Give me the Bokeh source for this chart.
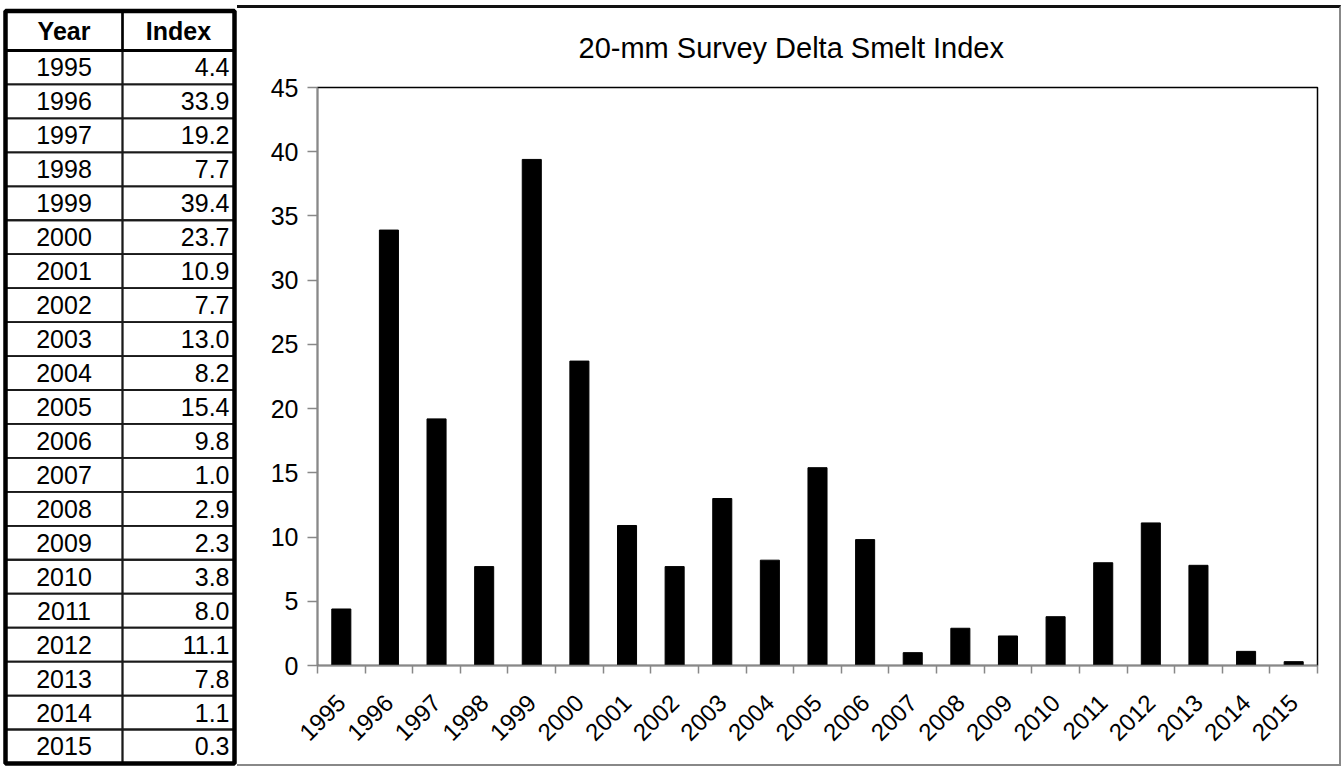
import math
from bokeh.plotting import figure
from bokeh.layouts import row, column
from bokeh.models import Range1d, LinearAxis, FixedTicker, ColumnDataSource
from bokeh.core.properties import value
from bokeh.embed import file_html
from bokeh.resources import INLINE

# ---------------- data ----------------
years = [1995, 1996, 1997, 1998, 1999, 2000, 2001, 2002, 2003, 2004, 2005,
         2006, 2007, 2008, 2009, 2010, 2011, 2012, 2013, 2014, 2015]
index_values = [4.4, 33.9, 19.2, 7.7, 39.4, 23.7, 10.9, 7.7, 13.0, 8.2, 15.4,
                9.8, 1.0, 2.9, 2.3, 3.8, 8.0, 11.1, 7.8, 1.1, 0.3]
y_ticks = [0, 5, 10, 15, 20, 25, 30, 35, 40, 45]
table_headers = ["Year", "Index"]
chart_title = "20-mm Survey Delta Smelt Index"

FONT = "Liberation Sans"
H = 766

# ---------------- table ----------------
TW = 237
row_px = 33.95
header_units = 1.163
top_units = -header_units - 10.5 / row_px
bottom_units = top_units + H / row_px

tbl = figure(width=TW, height=H, output_backend="svg", toolbar_location=None,
             x_range=Range1d(0, TW), y_range=Range1d(bottom_units, top_units),
             min_border=0, outline_line_color=None, tools="")
tbl.axis.visible = False
tbl.xgrid.visible = False
tbl.ygrid.visible = False

x_left, x_mid, x_right = 5, 122, 234
n = len(years)
rows_idx = list(range(n))
cells = ColumnDataSource(dict(
    top=[i for i in rows_idx],
    bottom=[i + 1 for i in rows_idx],
    year=[str(y) for y in years],
    val=[f"{v:.1f}" for v in index_values],
    yc=[i + 0.5 for i in rows_idx],
))
tbl.quad(left=x_left, right=x_mid, top="top", bottom="bottom", source=cells,
         fill_color=None, line_color="#1a1a1a", line_width=1.8)
tbl.quad(left=x_mid, right=x_right, top="top", bottom="bottom", source=cells,
         fill_color=None, line_color="#1a1a1a", line_width=1.8)
tbl.quad(left=[x_left, x_mid], right=[x_mid, x_right], top=[-header_units] * 2,
         bottom=[0, 0], fill_color=None, line_color="black", line_width=2.2)
tbl.segment(x0=[x_left], x1=[x_right], y0=[0.0], y1=[0.0], line_color="black", line_width=3)
tbl.quad(left=[x_left], right=[x_right], top=[-header_units], bottom=[n],
         fill_color=None, line_color="black", line_width=4.5)

tbl.text(x=(x_left + x_mid) / 2, y="yc", text="year", source=cells,
         text_align="center", text_baseline="middle",
         text_font=value(FONT), text_font_size="25px", text_color="black")
tbl.text(x=x_right - 5, y="yc", text="val", source=cells,
         text_align="right", text_baseline="middle",
         text_font=value(FONT), text_font_size="25px", text_color="black")
tbl.text(x=[(x_left + x_mid) / 2, (x_mid + x_right) / 2],
         y=[-header_units / 2] * 2, text=table_headers,
         text_align="center", text_baseline="middle",
         text_font=value(FONT), text_font_size="25px", text_font_style="bold",
         text_color="black")

# ---------------- chart ----------------
CW = 1341 - TW
CH = H - 5
xs = list(range(n))
p = figure(width=CW, height=CH, output_backend="svg", toolbar_location=None,
           x_range=Range1d(-0.5, n - 0.5), y_range=Range1d(0, 45),
           min_border_left=80, min_border_right=24, min_border_top=79,
           min_border_bottom=104, tools="", x_axis_location=None,
           y_axis_location=None, title=chart_title)
p.styles = {"border-top": "3px solid #111", "border-right": "2px solid #888",
            "border-bottom": "2px solid #888", "box-sizing": "border-box",
            "margin-top": "5px"}
p.title.text_font = FONT
p.title.text_font_size = "29px"
p.title.text_font_style = "normal"
p.title.text_color = "black"
p.title.align = "left"
p.title.vertical_align = "top"
p.title.offset = 261
p.title.standoff = 44
p.xgrid.visible = False
p.ygrid.visible = False
p.outline_line_color = "black"
p.outline_line_width = 1.5
p.background_fill_color = "white"
p.border_fill_color = "white"

for f in (tbl, p):
    if "frame_align" in f.properties():
        f.frame_align = False

yax = LinearAxis(ticker=FixedTicker(ticks=y_ticks))
yax.axis_line_color = "#888888"
yax.axis_line_width = 1.5
yax.major_tick_line_color = "#888888"
yax.major_tick_line_width = 1.5
yax.major_tick_out = 10
yax.major_tick_in = 0
yax.minor_tick_line_color = None
yax.major_label_standoff = 9
yax.major_label_text_font = FONT
yax.major_label_text_font_size = "25px"
yax.major_label_text_color = "black"
p.add_layout(yax, "left")

bounds = [i - 0.5 for i in range(n + 1)]
xax_ticks = LinearAxis(ticker=FixedTicker(ticks=bounds))
xax_ticks.major_label_overrides = {b: "" for b in bounds}
xax_ticks.major_label_text_font_size = "1px"
xax_ticks.major_label_standoff = 0
xax_ticks.axis_line_color = "#888888"
xax_ticks.axis_line_width = 1.5
xax_ticks.major_tick_line_color = "#888888"
xax_ticks.major_tick_line_width = 1.5
xax_ticks.major_tick_out = 8
xax_ticks.major_tick_in = 0
xax_ticks.minor_tick_line_color = None
p.add_layout(xax_ticks, "below")

xax_lab = LinearAxis(ticker=FixedTicker(ticks=xs))
xax_lab.major_label_overrides = {i: str(y) for i, y in zip(xs, years)}
xax_lab.axis_line_color = None
xax_lab.major_tick_line_color = None
xax_lab.minor_tick_line_color = None
xax_lab.major_tick_out = 0
xax_lab.major_tick_in = 0
xax_lab.major_label_standoff = 25
xax_lab.major_label_orientation = math.pi / 4
xax_lab.major_label_text_font = FONT
xax_lab.major_label_text_font_size = "24px"
xax_lab.major_label_text_color = "black"
p.add_layout(xax_lab, "below")

src = ColumnDataSource(dict(x=xs, top=index_values))
p.vbar(x="x", top="top", width=0.4, bottom=0, source=src,
       fill_color="black", line_color="black", line_width=1)

layout = row(column(tbl), column(p))
open("out.html", "w").write(file_html(layout, INLINE))
